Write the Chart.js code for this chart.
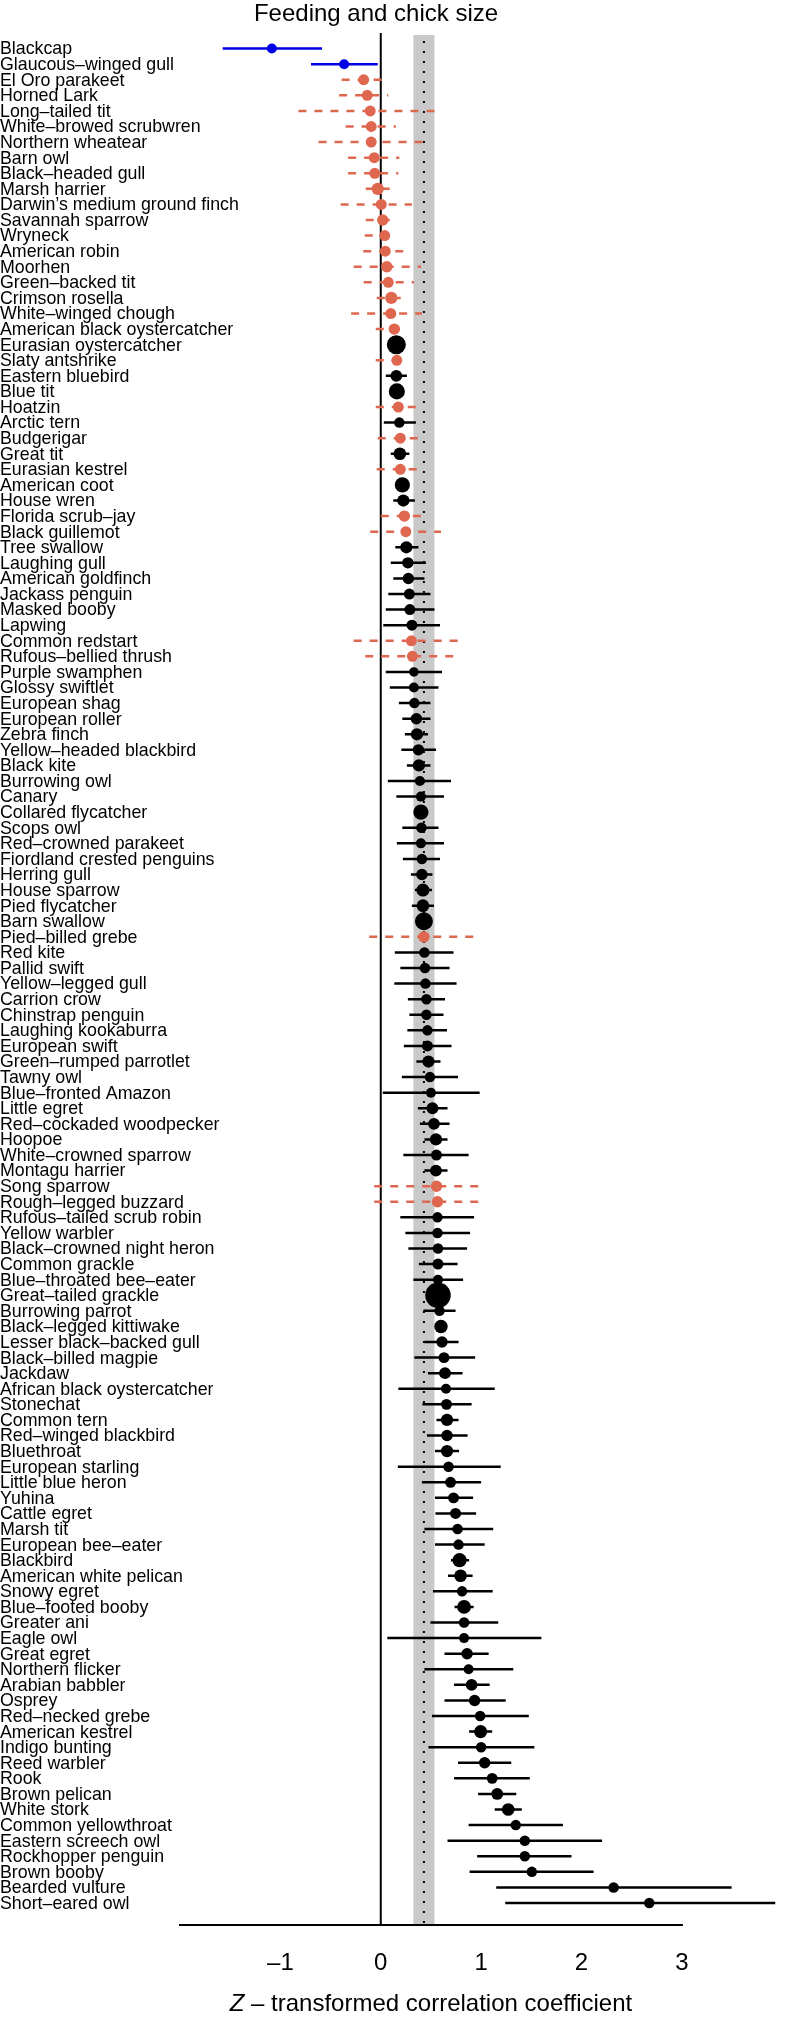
<!DOCTYPE html>
<html>
<head>
<meta charset="utf-8">
<script src="https://cdn.jsdelivr.net/npm/chart.js@4"></script>
<style>
  body { margin: 0; background: #fff; }
  #wrap { width: 788px; height: 2019px; }
</style>
</head>
<body>
<div id="wrap"><canvas id="chart" width="788" height="2019"></canvas></div>
<script>
const species = [
  "Blackcap", "Glaucous–winged gull", "El Oro parakeet", "Horned Lark", "Long–tailed tit",
  "White–browed scrubwren", "Northern wheatear", "Barn owl", "Black–headed gull", "Marsh harrier",
  "Darwin’s medium ground finch", "Savannah sparrow", "Wryneck", "American robin", "Moorhen",
  "Green–backed tit", "Crimson rosella", "White–winged chough", "American black oystercatcher", "Eurasian oystercatcher",
  "Slaty antshrike", "Eastern bluebird", "Blue tit", "Hoatzin", "Arctic tern",
  "Budgerigar", "Great tit", "Eurasian kestrel", "American coot", "House wren",
  "Florida scrub–jay", "Black guillemot", "Tree swallow", "Laughing gull", "American goldfinch",
  "Jackass penguin", "Masked booby", "Lapwing", "Common redstart", "Rufous–bellied thrush",
  "Purple swamphen", "Glossy swiftlet", "European shag", "European roller", "Zebra finch",
  "Yellow–headed blackbird", "Black kite", "Burrowing owl", "Canary", "Collared flycatcher",
  "Scops owl", "Red–crowned parakeet", "Fiordland crested penguins", "Herring gull", "House sparrow",
  "Pied flycatcher", "Barn swallow", "Pied–billed grebe", "Red kite", "Pallid swift",
  "Yellow–legged gull", "Carrion crow", "Chinstrap penguin", "Laughing kookaburra", "European swift",
  "Green–rumped parrotlet", "Tawny owl", "Blue–fronted Amazon", "Little egret", "Red–cockaded woodpecker",
  "Hoopoe", "White–crowned sparrow", "Montagu harrier", "Song sparrow", "Rough–legged buzzard",
  "Rufous–tailed scrub robin", "Yellow warbler", "Black–crowned night heron", "Common grackle", "Blue–throated bee–eater",
  "Great–tailed grackle", "Burrowing parrot", "Black–legged kittiwake", "Lesser black–backed gull", "Black–billed magpie",
  "Jackdaw", "African black oystercatcher", "Stonechat", "Common tern", "Red–winged blackbird",
  "Bluethroat", "European starling", "Little blue heron", "Yuhina", "Cattle egret",
  "Marsh tit", "European bee–eater", "Blackbird", "American white pelican", "Snowy egret",
  "Blue–footed booby", "Greater ani", "Eagle owl", "Great egret", "Northern flicker",
  "Arabian babbler", "Osprey", "Red–necked grebe", "American kestrel", "Indigo bunting",
  "Reed warbler", "Rook", "Brown pelican", "White stork", "Common yellowthroat",
  "Eastern screech owl", "Rockhopper penguin", "Brown booby", "Bearded vulture", "Short–eared owl"
];

const estimate = [
  -1.085, -0.365, -0.17, -0.135, -0.105, -0.095, -0.095, -0.065, -0.06, -0.03,
  0.005, 0.02, 0.04, 0.045, 0.06, 0.075, 0.105, 0.1, 0.135, 0.155,
  0.16, 0.155, 0.16, 0.175, 0.185, 0.195, 0.19, 0.195, 0.215, 0.225,
  0.235, 0.25, 0.255, 0.27, 0.275, 0.285, 0.29, 0.31, 0.305, 0.315,
  0.33, 0.33, 0.335, 0.355, 0.36, 0.375, 0.38, 0.39, 0.4, 0.4,
  0.405, 0.4, 0.41, 0.41, 0.42, 0.42, 0.43, 0.43, 0.435, 0.44,
  0.445, 0.455, 0.455, 0.465, 0.465, 0.475, 0.49, 0.5, 0.515, 0.53,
  0.55, 0.555, 0.55, 0.555, 0.565, 0.565, 0.565, 0.57, 0.57, 0.57,
  0.57, 0.585, 0.6, 0.61, 0.63, 0.64, 0.65, 0.655, 0.66, 0.66,
  0.66, 0.675, 0.695, 0.725, 0.745, 0.765, 0.775, 0.785, 0.795, 0.81,
  0.83, 0.83, 0.83, 0.86, 0.875, 0.905, 0.935, 0.99, 0.995, 1.0,
  1.035, 1.11, 1.16, 1.27, 1.345, 1.435, 1.435, 1.505, 2.32, 2.675
];

const lower = [
  -1.575, -0.695, -0.39, -0.415, -0.82, -0.35, -0.62, -0.325, -0.325, -0.15,
  -0.4, -0.15, -0.16, -0.175, -0.27, -0.17, -0.04, -0.295, -0.05, 0.1,
  -0.05, 0.05, 0.1, -0.05, 0.03, -0.03, 0.1, -0.04, 0.15, 0.125,
  0.0, -0.105, 0.145, 0.1, 0.125, 0.075, 0.05, 0.025, -0.27, -0.155,
  0.05, 0.09, 0.18, 0.215, 0.24, 0.205, 0.26, 0.07, 0.155, 0.35,
  0.215, 0.16, 0.22, 0.3, 0.34, 0.31, 0.38, -0.115, 0.14, 0.195,
  0.135, 0.27, 0.285, 0.265, 0.23, 0.355, 0.21, 0.02, 0.37, 0.39,
  0.435, 0.225, 0.435, -0.065, -0.065, 0.195, 0.245, 0.275, 0.38, 0.325,
  0.5, 0.425, 0.56, 0.435, 0.335, 0.47, 0.175, 0.415, 0.555, 0.46,
  0.54, 0.17, 0.41, 0.54, 0.545, 0.435, 0.54, 0.7, 0.67, 0.52,
  0.735, 0.495, 0.065, 0.635, 0.435, 0.73, 0.635, 0.51, 0.88, 0.475,
  0.77, 0.73, 0.97, 1.135, 0.875, 0.665, 0.96, 0.885, 1.15, 1.24
];

const upper = [
  -0.585, -0.03, 0.05, 0.075, 0.615, 0.15, 0.435, 0.185, 0.175, 0.09,
  0.31, 0.15, 0.14, 0.27, 0.4, 0.33, 0.24, 0.41, 0.25, 0.21,
  0.24, 0.26, 0.22, 0.41, 0.35, 0.41, 0.285, 0.42, 0.28, 0.34,
  0.47, 0.6, 0.375, 0.45, 0.435, 0.495, 0.535, 0.59, 0.84, 0.75,
  0.61, 0.575, 0.495, 0.495, 0.47, 0.55, 0.495, 0.7, 0.63, 0.45,
  0.575, 0.63, 0.59, 0.515, 0.51, 0.53, 0.48, 0.975, 0.725, 0.685,
  0.755, 0.64, 0.625, 0.66, 0.705, 0.595, 0.77, 0.985, 0.665, 0.685,
  0.665, 0.875, 0.665, 1.05, 1.05, 0.93, 0.89, 0.86, 0.765, 0.82,
  0.64, 0.745, 0.64, 0.775, 0.94, 0.815, 1.135, 0.905, 0.775, 0.865,
  0.78, 1.195, 1.0, 0.92, 0.95, 1.12, 1.035, 0.88, 0.915, 1.115,
  0.925, 1.17, 1.6, 1.075, 1.32, 1.085, 1.245, 1.475, 1.11, 1.53,
  1.3, 1.485, 1.35, 1.405, 1.815, 2.205, 1.9, 2.12, 3.495, 4.2
];

// neg = negative effect, ns = interval crosses zero, pos = positive effect
const group = [
  "neg", "neg", "ns", "ns", "ns", "ns", "ns", "ns", "ns", "ns",
  "ns", "ns", "ns", "ns", "ns", "ns", "ns", "ns", "ns", "pos",
  "ns", "pos", "pos", "ns", "pos", "ns", "pos", "ns", "pos", "pos",
  "ns", "ns", "pos", "pos", "pos", "pos", "pos", "pos", "ns", "ns",
  "pos", "pos", "pos", "pos", "pos", "pos", "pos", "pos", "pos", "pos",
  "pos", "pos", "pos", "pos", "pos", "pos", "pos", "ns", "pos", "pos",
  "pos", "pos", "pos", "pos", "pos", "pos", "pos", "pos", "pos", "pos",
  "pos", "pos", "pos", "ns", "ns", "pos", "pos", "pos", "pos", "pos",
  "pos", "pos", "pos", "pos", "pos", "pos", "pos", "pos", "pos", "pos",
  "pos", "pos", "pos", "pos", "pos", "pos", "pos", "pos", "pos", "pos",
  "pos", "pos", "pos", "pos", "pos", "pos", "pos", "pos", "pos", "pos",
  "pos", "pos", "pos", "pos", "pos", "pos", "pos", "pos", "pos", "pos"
];

// relative study weight, shown as marker area
const weight = [
  1, 1, 1.2, 1.2, 1.2, 1.2, 1.2, 1.2, 1.2, 1.5,
  1.2, 1.3, 1.2, 1.2, 1.3, 1.2, 1.5, 1.2, 1.3, 3.6,
  1.2, 1.4, 2.6, 1.2, 1.1, 1.2, 1.6, 1.2, 2.3, 1.5,
  1.3, 1.2, 1.5, 1.3, 1.3, 1.2, 1.2, 1.2, 1.2, 1.2,
  0.9, 1, 1.1, 1.3, 1.5, 1.3, 1.5, 1, 1, 2.3,
  1.1, 1, 1.1, 1.3, 1.7, 1.6, 3.2, 1.3, 1.1, 1.1,
  1.1, 1.1, 1.1, 1.1, 1.2, 1.5, 1.1, 1, 1.4, 1.4,
  1.5, 1.2, 1.4, 1.3, 1.3, 1.1, 1.1, 1.1, 1.2, 1,
  6.5, 1.1, 1.8, 1.3, 1.2, 1.4, 1, 1.2, 1.5, 1.3,
  1.5, 1.1, 1.2, 1.2, 1.2, 1.1, 1.1, 2, 1.6, 1.1,
  1.9, 1.1, 1, 1.3, 1, 1.4, 1.3, 1.1, 1.7, 1.1,
  1.3, 1.2, 1.4, 1.6, 1.1, 1.1, 1.1, 1.1, 1.1, 1.1
];

const xTicks = [-1, 0, 1, 2, 3];
const meanEffect = 0.43;
const meanLow = 0.325;
const meanHigh = 0.535;

const colors = { neg: "#0000e6", ns: "#e0674f", pos: "#000000" };
const FONT = "'Liberation Sans', Arial, Helvetica, sans-serif";

function intervals(g) {
  const pts = [];
  species.forEach((s, i) => {
    if (group[i] !== g) return;
    pts.push({ x: lower[i], y: i }, { x: upper[i], y: i }, { x: null, y: null });
  });
  return pts;
}

function points(g) {
  return species.map((s, i) => ({ x: estimate[i], y: i, w: weight[i], g: group[i] }))
    .filter(p => p.g === g);
}

function lineSet(g, dash) {
  return {
    type: "line",
    data: intervals(g),
    borderColor: colors[g],
    borderWidth: 2.5,
    borderDash: dash,
    borderCapStyle: "butt",
    pointRadius: 0,
    spanGaps: false,
    tension: 0,
    order: 2
  };
}

function pointSet(g) {
  const data = points(g);
  return {
    type: "scatter",
    data: data,
    backgroundColor: colors[g],
    borderWidth: 0,
    pointRadius: data.map(p => 5 * Math.sqrt(p.w)),
    order: 1
  };
}

const decor = {
  id: "decor",
  beforeDatasetsDraw(chart) {
    const { ctx, chartArea: a, scales: { x, y } } = chart;
    ctx.save();
    const l = x.getPixelForValue(meanLow);
    const r = x.getPixelForValue(meanHigh);
    ctx.fillStyle = "#c9c9c9";
    ctx.fillRect(l, a.top + 2, r - l, a.bottom - a.top - 2);

    const m = x.getPixelForValue(meanEffect);
    ctx.strokeStyle = "#000";
    ctx.lineWidth = 2;
    ctx.setLineDash([2, 8]);
    ctx.beginPath();
    ctx.moveTo(m, a.top + 8);
    ctx.lineTo(m, a.bottom);
    ctx.stroke();

    const z = x.getPixelForValue(0);
    ctx.setLineDash([]);
    ctx.beginPath();
    ctx.moveTo(z, a.top);
    ctx.lineTo(z, a.bottom);
    ctx.stroke();

    // species names, placed on the y scale
    ctx.fillStyle = "#000";
    ctx.font = "17.8px " + FONT;
    ctx.textAlign = "left";
    ctx.textBaseline = "middle";
    species.forEach((s, i) => ctx.fillText(s, 0, y.getPixelForValue(i) + 1));
    ctx.restore();
  },
  afterDraw(chart) {
    const { ctx, chartArea: a, scales: { x } } = chart;
    ctx.save();
    ctx.strokeStyle = "#000";
    ctx.lineWidth = 2;
    ctx.lineCap = "square";
    ctx.beginPath();
    ctx.moveTo(x.getPixelForValue(-2), a.bottom);
    ctx.lineTo(x.getPixelForValue(3), a.bottom);
    ctx.stroke();

    ctx.fillStyle = "#000";
    ctx.textBaseline = "alphabetic";
    ctx.textAlign = "center";
    ctx.font = "24px " + FONT;
    ctx.fillText("Feeding and chick size", 376, 21);

    const cx = x.getPixelForValue(0.5);
    const rest = " – transformed correlation coefficient";
    ctx.font = "italic 24px " + FONT;
    const wz = ctx.measureText("Z").width;
    ctx.font = "24px " + FONT;
    const wr = ctx.measureText(rest).width;
    const start = cx - (wz + wr) / 2;
    ctx.textAlign = "left";
    ctx.font = "italic 24px " + FONT;
    ctx.fillText("Z", start, 2011);
    ctx.font = "24px " + FONT;
    ctx.fillText(rest, start + wz, 2011);
    ctx.restore();
  }
};

new Chart(document.getElementById("chart").getContext("2d"), {
  type: "scatter",
  data: {
    datasets: [
      lineSet("pos", []),
      lineSet("neg", []),
      lineSet("ns", [8, 8]),
      pointSet("pos"),
      pointSet("neg"),
      pointSet("ns")
    ]
  },
  options: {
    responsive: false,
    animation: false,
    devicePixelRatio: 1,
    layout: { padding: { top: 33, left: 0, right: 0, bottom: 0 } },
    plugins: { legend: { display: false }, tooltip: { enabled: false }, title: { display: false } },
    scales: {
      x: {
        type: "linear",
        min: -2.02,
        max: 3.93,
        grid: { display: false, drawTicks: false },
        border: { display: false },
        afterBuildTicks: s => { s.ticks = xTicks.map(v => ({ value: v })); },
        afterFit: s => { s.height = 94; },
        ticks: {
          padding: 24,
          color: "#000",
          font: { family: FONT, size: 24 },
          callback: v => (v < 0 ? "–" + Math.abs(v) : String(v))
        }
      },
      y: {
        type: "linear",
        reverse: true,
        min: -1,
        max: 120.41,
        grid: { display: false, drawTicks: false },
        border: { display: false },
        afterBuildTicks: s => { s.ticks = species.map((n, i) => ({ value: i })); },
        afterFit: s => { s.width = 178; },
        ticks: { display: false }
      }
    }
  },
  plugins: [decor]
});
</script>
</body>
</html>
